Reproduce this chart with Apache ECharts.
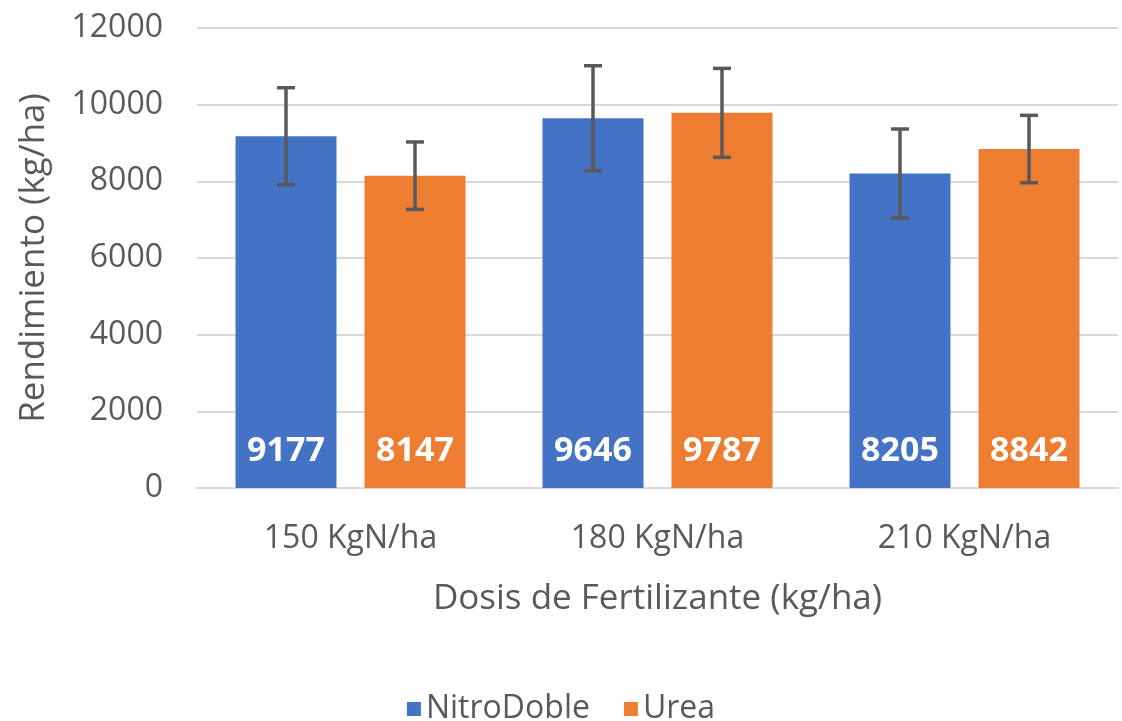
<!DOCTYPE html>
<html>
<head>
<meta charset="utf-8">
<script src="https://cdn.jsdelivr.net/npm/echarts@6/dist/echarts.min.js"></script>
<style>
  html, body { margin: 0; padding: 0; background: #fff; }
  #chart { width: 1122px; height: 721px; }
</style>
</head>
<body>
<div id="chart"></div>
<script>
// datos
const categories = ['150 KgN/ha', '180 KgN/ha', '210 KgN/ha']
const nitroDoble = [9177, 9646, 8205]
const urea = [8147, 9787, 8842]
// desviación (barras de error)
const nitroErr = [1265, 1370, 1160]
const ureaErr = [880, 1160, 880]

const BAR_W = 101
const BAR_GAP = 28
const FONT = '"Open Sans", "Noto Sans", sans-serif'

const chart = echarts.init(document.getElementById('chart'))

// barras de error con serie custom
const errorSeries = (values, errs, side) => ({
  type: 'custom',
  z: 10,
  silent: true,
  data: values.map((v, i) => [i, v - errs[i], v + errs[i]]),
  renderItem: (params, api) => {
    const offset = side * (BAR_W / 2 + BAR_GAP / 2)
    const low = api.coord([api.value(0), api.value(1)])
    const high = api.coord([api.value(0), api.value(2)])
    const x = low[0] + offset
    const half = 9
    const style = { stroke: '#595959', lineWidth: 3.5 }
    return {
      type: 'group',
      children: [
        { type: 'line', shape: { x1: x, y1: high[1], x2: x, y2: low[1] }, style },
        { type: 'line', shape: { x1: x - half, y1: high[1], x2: x + half, y2: high[1] }, style },
        { type: 'line', shape: { x1: x - half, y1: low[1], x2: x + half, y2: low[1] }, style },
      ],
    }
  },
})

const barLabel = {
  show: true,
  position: 'insideBottom',
  distance: 20,
  color: '#fff',
  fontWeight: 'bold',
  fontSize: 34,
  fontFamily: FONT,
}

chart.setOption({
  animation: false,
  textStyle: { fontFamily: FONT },
  grid: { left: 197, right: 4, top: 28, bottom: 233 },
  legend: {
    top: 688,
    left: 'center',
    itemWidth: 14,
    itemHeight: 14,
    itemGap: 34,
    icon: 'rect',
    textStyle: { fontSize: 32, color: '#595959', fontFamily: FONT },
    data: ['NitroDoble', 'Urea'],
  },
  xAxis: {
    type: 'category',
    data: categories,
    name: 'Dosis de Fertilizante (kg/ha)',
    nameLocation: 'middle',
    nameGap: 94,
    nameTextStyle: { fontSize: 35, color: '#595959' },
    axisLine: { lineStyle: { color: '#d9d9d9', width: 2 } },
    axisTick: { show: false },
    axisLabel: { fontSize: 32, color: '#595959', margin: 35 },
  },
  yAxis: {
    type: 'value',
    min: 0,
    max: 12000,
    interval: 2000,
    name: 'Rendimiento (kg/ha)',
    nameLocation: 'middle',
    nameGap: 145,
    nameTextStyle: { fontSize: 35, color: '#595959' },
    axisLine: { show: false },
    axisTick: { show: false },
    axisLabel: { fontSize: 32, color: '#595959', margin: 34, formatter: (v) => String(v) },
    splitLine: { lineStyle: { color: '#d9d9d9', width: 2 } },
  },
  series: [
    {
      name: 'NitroDoble',
      type: 'bar',
      data: nitroDoble,
      barWidth: BAR_W,
      barGap: (BAR_GAP / BAR_W * 100) + '%',
      itemStyle: { color: '#4472c4' },
      label: barLabel,
    },
    {
      name: 'Urea',
      type: 'bar',
      data: urea,
      barWidth: BAR_W,
      itemStyle: { color: '#ed7d31' },
      label: barLabel,
    },
    errorSeries(nitroDoble, nitroErr, -1),
    errorSeries(urea, ureaErr, 1),
  ],
})
</script>
</body>
</html>
